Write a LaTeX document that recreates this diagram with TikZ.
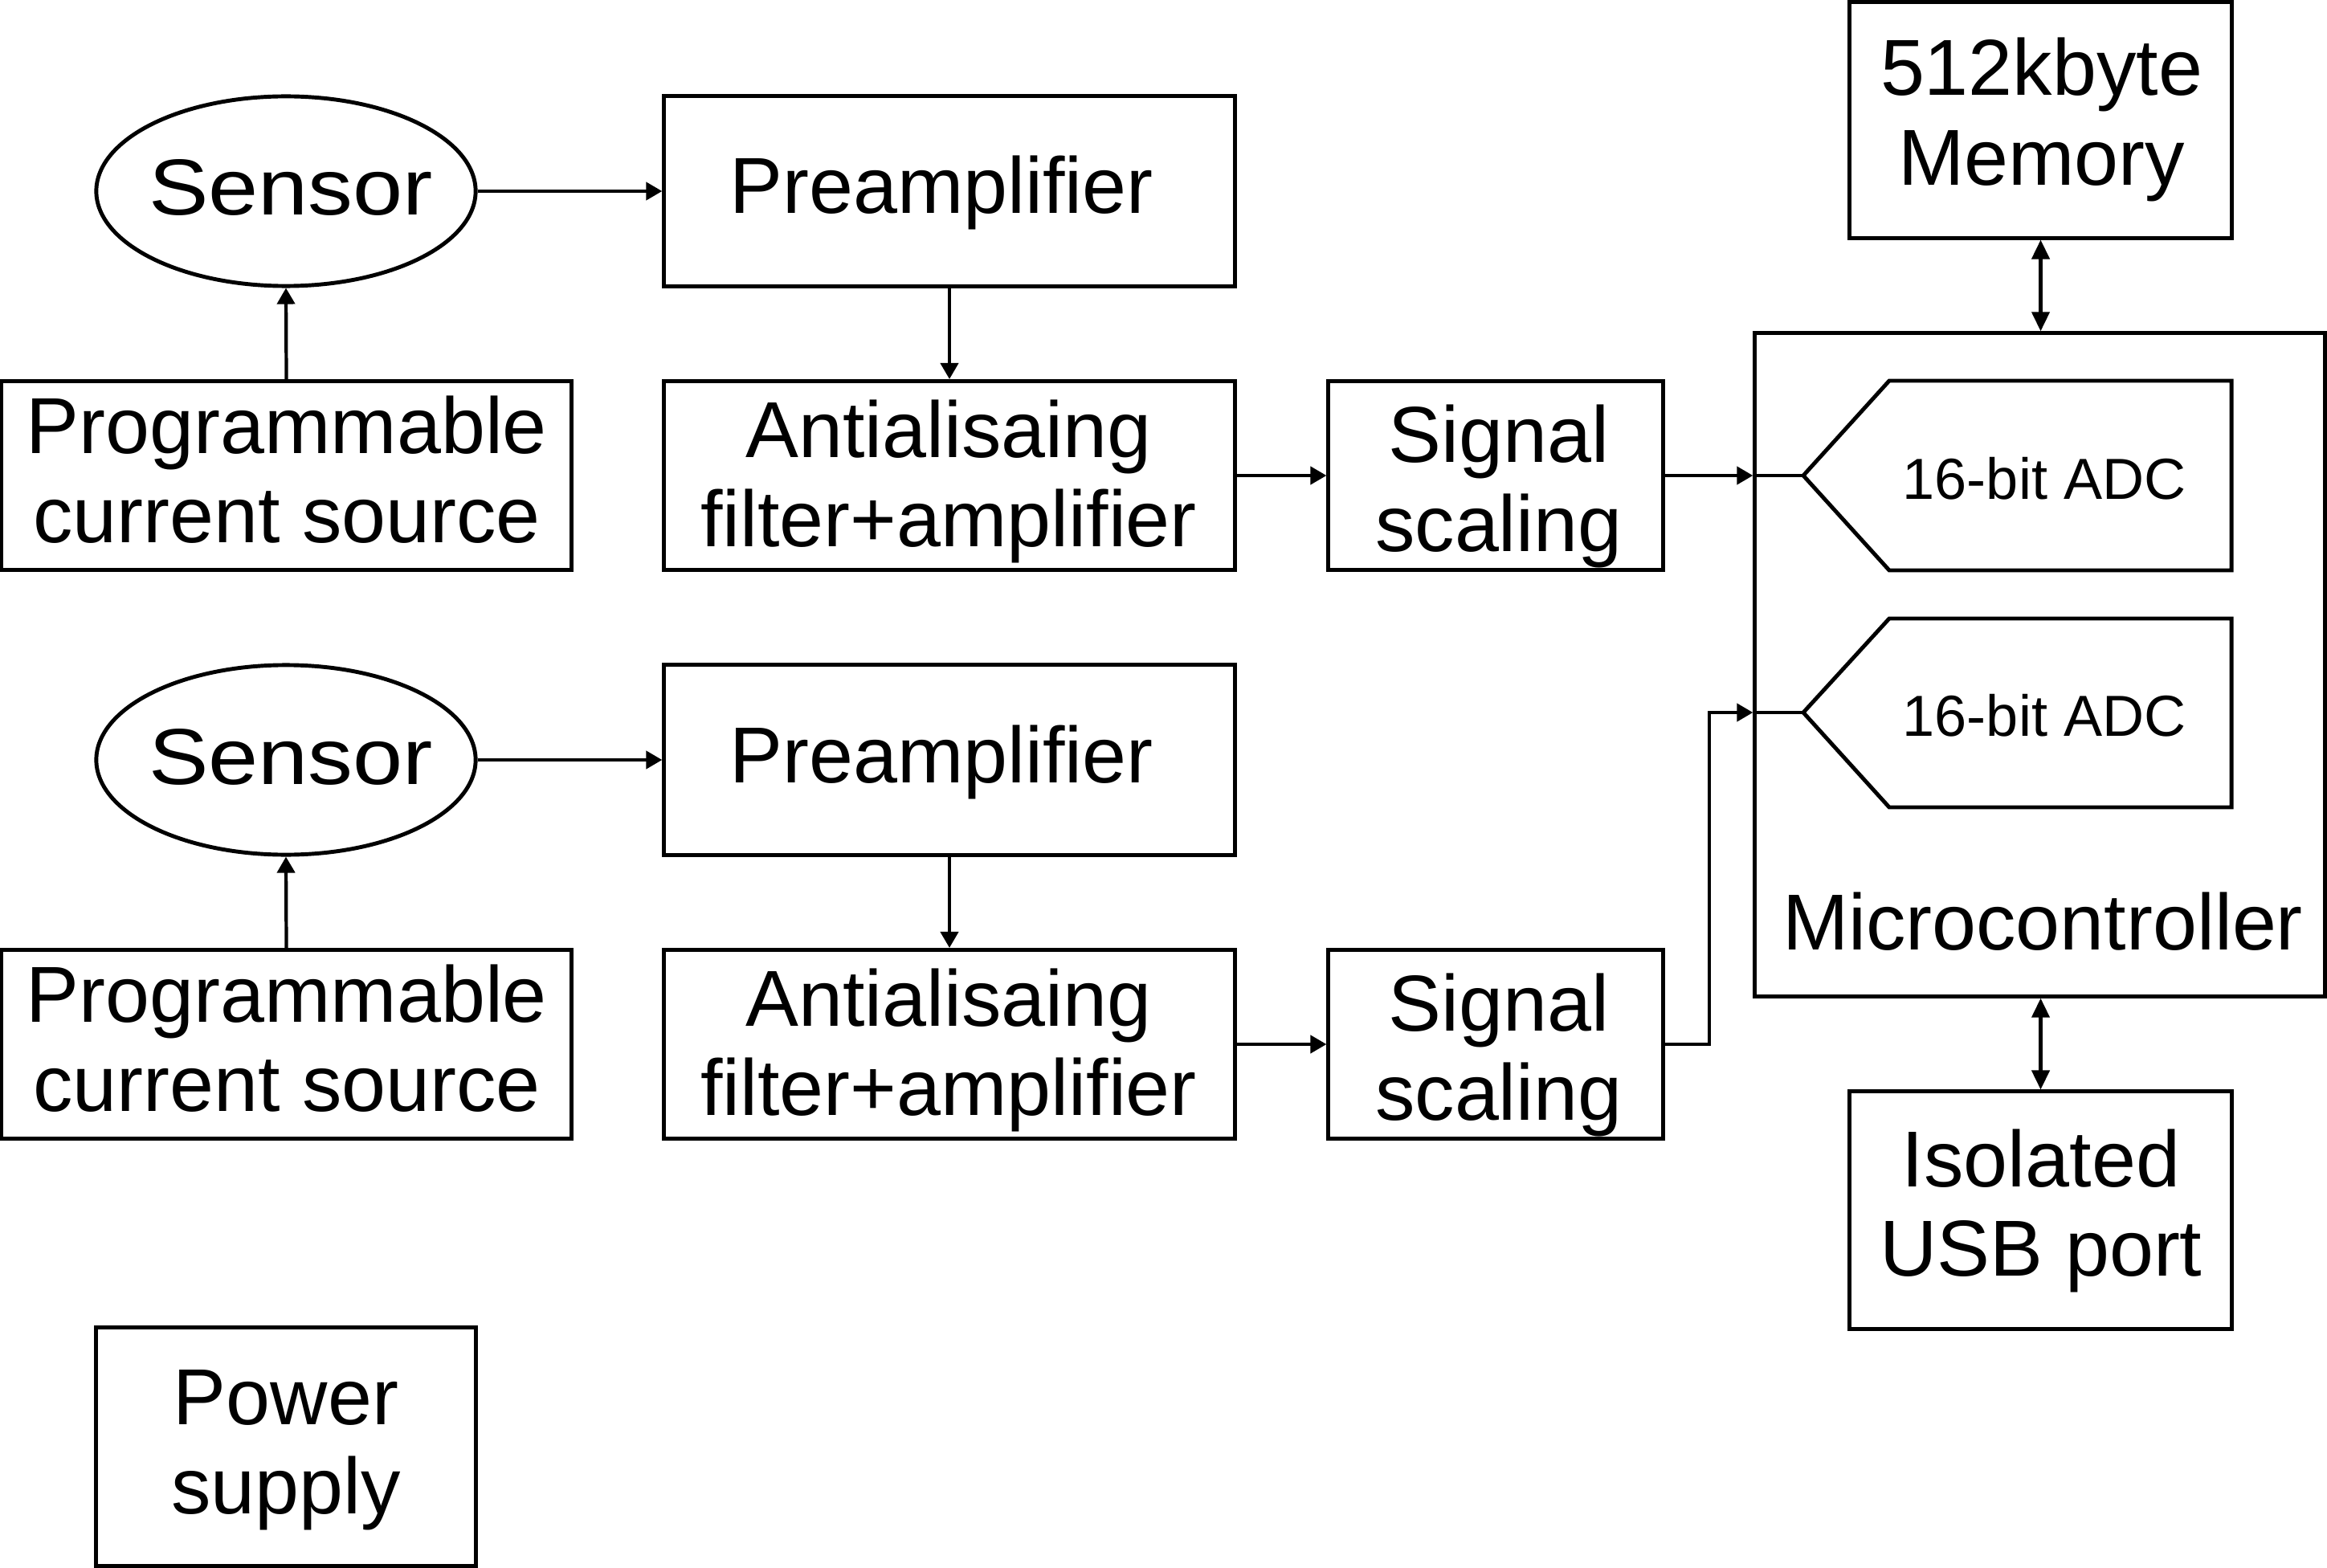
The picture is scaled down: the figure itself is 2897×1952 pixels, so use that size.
\documentclass[tikz,border=0pt]{standalone}
\usepackage{fontspec}
\usepackage{graphicx}
\setmainfont{Liberation Sans}
\usetikzlibrary{arrows.meta,shapes.geometric,calc}
\newcommand{\mytwolines}[2]{\begin{tabular}[t]{@{}c@{}}#1\\#2\end{tabular}}
\begin{document}
\begin{tikzpicture}[x=0.01cm,y=-0.01cm,
  font=\fontsize{28.1}{31.7}\selectfont,
  bx/.style 2 args={draw, line width=1.4pt, minimum width=#1, minimum height=#2, inner sep=0pt},
  el/.style={draw, ellipse, line width=1.4pt, minimum width=4.72cm, minimum height=2.36cm, inner sep=0pt},
  txt/.style={anchor=base, inner sep=0pt},
  conn/.style={line width=1.2pt},
  arr/.style={conn, -{Triangle[length=0.2cm,width=0.22cm]}},
  darr/.style={conn, {Triangle[length=0.24cm,width=0.22cm]}-{Triangle[length=0.24cm,width=0.22cm]}},
  adcshape/.style={draw, line width=1.4pt, line join=miter},
  adctext/.style={txt, font=\fontsize{20.5}{24}\selectfont}
]
\useasboundingbox (0,0) rectangle (2897,1952);

% Row 1
\node[el] (sens1) at (356,238) {};
\node[txt] (sens1t) at (362,268) {\scalebox{1.13}[1]{Sensor}};
\node[bx={7.10cm}{2.36cm}] (pre1) at (1182,238) {};
\node[txt] (pre1t) at (1172,266) {Preamplifier};
\node[bx={7.09cm}{2.35cm}] (prog1) at (356.5,592) {};
\node[txt] (prog1t) at (357,564.5) {\mytwolines{Programmable}{current source}};
\node[bx={7.11cm}{2.35cm}] (anti1) at (1182,592) {};
\node[txt] (anti1t) at (1181,569) {\mytwolines{Antialisaing}{filter+amplifier}};
\node[bx={4.16cm}{2.35cm}] (sig1) at (1862,592) {};
\node[txt] (sig1t) at (1866,575) {\mytwolines{Signal}{scaling}};

% Row 2
\node[el] (sens2) at (356,946) {};
\node[txt] (sens2t) at (362,976) {\scalebox{1.13}[1]{Sensor}};
\node[bx={7.10cm}{2.36cm}] (pre2) at (1182,946) {};
\node[txt] (pre2t) at (1172,974) {Preamplifier};
\node[bx={7.09cm}{2.35cm}] (prog2) at (356.5,1300) {};
\node[txt] (prog2t) at (357,1272) {\mytwolines{Programmable}{current source}};
\node[bx={7.11cm}{2.35cm}] (anti2) at (1182,1300) {};
\node[txt] (anti2t) at (1181,1277) {\mytwolines{Antialisaing}{filter+amplifier}};
\node[bx={4.16cm}{2.35cm}] (sig2) at (1862,1300) {};
\node[txt] (sig2t) at (1866,1283) {\mytwolines{Signal}{scaling}};

% Power
\node[bx={4.72cm}{2.96cm}] (power) at (356,1801) {};
\node[txt] (powert) at (356,1773) {\mytwolines{Power}{supply}};

% Right column
\node[bx={4.75cm}{2.93cm}] (mem) at (2540.5,149.5) {};
\node[txt] (memt) at (2541.5,119) {\mytwolines{512kbyte}{Memory}};
\node[bx={7.09cm}{8.25cm}] (mcu) at (2539.5,827.5) {};
\node[txt] (mcut) at (2543,1182) {Microcontroller};
\node[bx={4.75cm}{2.95cm}] (usb) at (2540.5,1506.5) {};
\node[txt] (usbt) at (2541,1477) {\mytwolines{Isolated}{USB port}};

% ADCs
\coordinate (adc1tip) at (2245,592);
\draw[adcshape] (adc1tip) -- (2352,474) -- (2778,474) -- (2778,710) -- (2352,710) -- cycle;
\node[adctext] (adc1) at (2545,621) {16-bit ADC};
\coordinate (adc2tip) at (2245,887);
\draw[adcshape] (adc2tip) -- (2352,770) -- (2778,770) -- (2778,1005) -- (2352,1005) -- cycle;
\node[adctext] (adc2) at (2545,916) {16-bit ADC};

% Connectors row 1
\draw[arr] (prog1.north) -- (sens1.south);
\draw[arr] (sens1.east) -- (pre1.west);
\draw[arr] (pre1.south) -- (anti1.north);
\draw[arr] (anti1.east) -- (sig1.west);
\coordinate (in1) at (sig1.east -| mcu.west);
\draw[arr] (sig1.east) -- (in1);
\draw[conn] (in1) -- (adc1tip);

% Connectors row 2
\draw[arr] (prog2.north) -- (sens2.south);
\draw[arr] (sens2.east) -- (pre2.west);
\draw[arr] (pre2.south) -- (anti2.north);
\draw[arr] (anti2.east) -- (sig2.west);
\coordinate (bend2) at (2128,1300);
\coordinate (in2) at (adc2tip -| mcu.west);
\draw[arr] (sig2.east) -- (bend2) |- (in2);
\draw[conn] (in2) -- (adc2tip);

% Memory / USB
\draw[darr] (mem.south) -- (mem.south |- mcu.north);
\draw[darr] (usb.north |- mcu.south) -- (usb.north);
\end{tikzpicture}
\end{document}
